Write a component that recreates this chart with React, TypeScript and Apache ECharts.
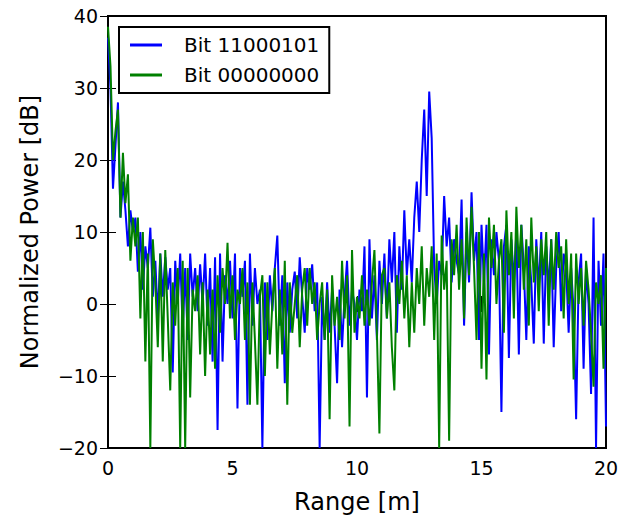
import React, { useEffect, useRef } from "react";
import * as echarts from "echarts";

const STEP = 0.1;
const xTicks = [0, 5, 10, 15, 20];
const yTicks = [-20, -10, 0, 10, 20, 30, 40];
const seriesNames = ["Bit 11000101", "Bit 00000000"];

const blue = [
  37, 30, 16, 22, 28, 12, 17, 13, 8, 13, 10,
  12, 4.5, 10, 2, 8, 5, 10.6, 1, 6, -2,
  7, 1, 6.5, 2, 5, -9.5, 6, 0, 7, -4,
  5, -5, 7, 1, 5, -1, 5.5, 0, 7, -3,
  5, -8, 6.5, -17.5, 7, -8, 4, 0, 6, -2,
  7, -14.5, 5, 1, 6, -14, 7, -3, 5, 0,
  2, -20, 3, -5, 4, -1, 5, 9.5, -3, 4,
  -11, 3, -4, 2, 4.5, -2, 6.5, 1, -4, 5,
  2, 5.5, -1, 3, -20, 1, -5, 3, -4, 2,
  -3, -11, 2, -6, 1, 6, -3, 2, 0, -5,
  2, -1, 8, -13, 9, -2, 4, -5, 6, 0,
  7, -2, 9, 3, 10, -4, 8, 2, 13, 4,
  9, 3, 12, 17, 10, 20, 27, 15, 29.5, 23,
  5, 0, 6, 4, 15, 8, 12, 3, 9, 6,
  4, 14.5, -3, 10, 3, 15.5, 6, 10, -5, 11,
  3, 11, -7, 9, 4, 10, 6, -15, 8, 11,
  -7.5, 9, 3, 10, -7, 11, 5, -5, 8, 3,
  -5.5, 9, 2, 10, -5.5, 8, 2, 9, -6, 5,
  10, -1, 7, 5, -4, 5, -1, -16, 3, 7,
  -9, 5, 0, -12.5, 12, -20, 6, -3, 7, -17,
];

const green = [
  38.5, 33, 20, 24, 27, 12, 21, 14, 18, 6, 12,
  8, 12, -2, 10, -8, 7, -20, 9, 3, -6,
  7, -8, 7.5, -2, -12, 3, -3, 5, -20, 6,
  -20, 5, -13, 2, -1, 4, -7, 3, -10, 2,
  -7, 2, -9, 4, -4, 5, 0, 8.5, -2, 4,
  -5, 2, 0, 5, -5, 3, -14, 3, -5, -14,
  1, 4, -10, 3, -7, 0, 5, -9, 2, -7,
  6, -14, 3, -4, 0, 4, -6, 2, 5, -3,
  5, 0, 3, -5, 0, 3, -5, 2, -16, 4,
  -3, 1, -5, 6, -2, 4, -17, 7.5, -4, 1,
  -2, 4, -3, 2, -3, 3, 7.5, -4, -18, 4,
  5, -2, 3, -6, -12, 4, 0, 6, -2, 4,
  -6, 3, -4, 5, 0, 8, -3, 5, 1, 8,
  -5, 7, -20, 9.5, 2, 6, -19, 9, 4, 11,
  2, 9, -2, 12, 4, 13.5, 5, -5, 10, -9,
  7, -10.5, 12, 5, 11, 0, 6, 9, -4, 13,
  4, 10, -2, 13.5, 5, 11, 2, 9, -3, 12,
  3, 8, -1, 9, 4, 10, -3, 9, 2, 10,
  5, 8, -2, 9, 0, 7, -10.5, 7, 0, 5,
  -3, 6, 2, -4, -11.5, 3, 0, 4, -9, 5,
];

const FONT = "DejaVu Sans";

function toPairs(vals: number[]) {
  return vals.map((v, i) => [+(i * STEP).toFixed(2), v]);
}

const minus = (v: number) => String(v).replace("-", "\u2212");

export default function App() {
  const ref = useRef<HTMLDivElement>(null);
  useEffect(() => {
    if (!ref.current) return;
    const chart = echarts.init(ref.current, undefined, { renderer: "svg" });
    const tickStyle = { show: true, inside: true, length: 8, lineStyle: { color: "#000", width: 1 } };
    chart.setOption({
      animation: false,
      backgroundColor: "#fff",
      grid: {
        left: 108,
        right: 24,
        top: 16,
        bottom: 67,
        show: true,
        borderColor: "#000",
        borderWidth: 2,
        backgroundColor: "transparent",
      },
      legend: {
        orient: "vertical",
        left: 119,
        top: 27,
        data: seriesNames,
        icon: "rect",
        itemWidth: 32,
        itemHeight: 3,
        itemGap: 8,
        padding: [7, 10, 7, 11],
        borderColor: "#000",
        borderWidth: 2,
        borderRadius: 0,
        backgroundColor: "#fff",
        textStyle: { fontFamily: FONT, fontSize: 20, color: "#000", padding: [0, 0, 0, 17], lineHeight: 22 },
      },
      xAxis: [
        {
          type: "value",
          min: 0,
          max: 20,
          interval: 5,
          position: "bottom",
          axisLine: { show: false },
          axisTick: tickStyle,
          splitLine: { show: false },
          axisLabel: {
            fontFamily: FONT,
            fontSize: 19,
            color: "#000",
            margin: 10,
            formatter: (v: number) => (xTicks.includes(v) ? minus(v) : ""),
          },
          name: "Range [m]",
          nameLocation: "middle",
          nameGap: 42,
          nameTextStyle: { fontFamily: FONT, fontSize: 24, color: "#000" },
        },
        {
          type: "value",
          min: 0,
          max: 20,
          interval: 5,
          position: "top",
          axisLine: { show: false },
          axisTick: tickStyle,
          splitLine: { show: false },
          axisLabel: { show: false },
        },
      ],
      yAxis: [
        {
          type: "value",
          min: -20,
          max: 40,
          interval: 10,
          position: "left",
          axisLine: { show: false },
          axisTick: tickStyle,
          splitLine: { show: false },
          axisLabel: {
            fontFamily: FONT,
            fontSize: 19,
            color: "#000",
            margin: 10,
            formatter: (v: number) => (yTicks.includes(v) ? minus(v) : ""),
          },
          name: "Normalized Power [dB]",
          nameLocation: "middle",
          nameRotate: 90,
          nameGap: 66,
          nameTextStyle: { fontFamily: FONT, fontSize: 24, color: "#000" },
        },
        {
          type: "value",
          min: -20,
          max: 40,
          interval: 10,
          position: "right",
          axisLine: { show: false },
          axisTick: tickStyle,
          splitLine: { show: false },
          axisLabel: { show: false },
        },
      ],
      series: [
        {
          name: seriesNames[0],
          type: "line",
          data: toPairs(blue),
          showSymbol: false,
          color: "#0000ff",
          lineStyle: { color: "#0000ff", width: 2 },
          z: 2,
        },
        {
          name: seriesNames[1],
          type: "line",
          data: toPairs(green),
          showSymbol: false,
          color: "#008000",
          lineStyle: { color: "#008000", width: 2 },
          z: 3,
        },
      ],
    });
    return () => chart.dispose();
  }, []);
  return (
    <div
      ref={ref}
      style={{ position: "fixed", left: 0, top: 0, width: 630, height: 519 }}
    />
  );
}
